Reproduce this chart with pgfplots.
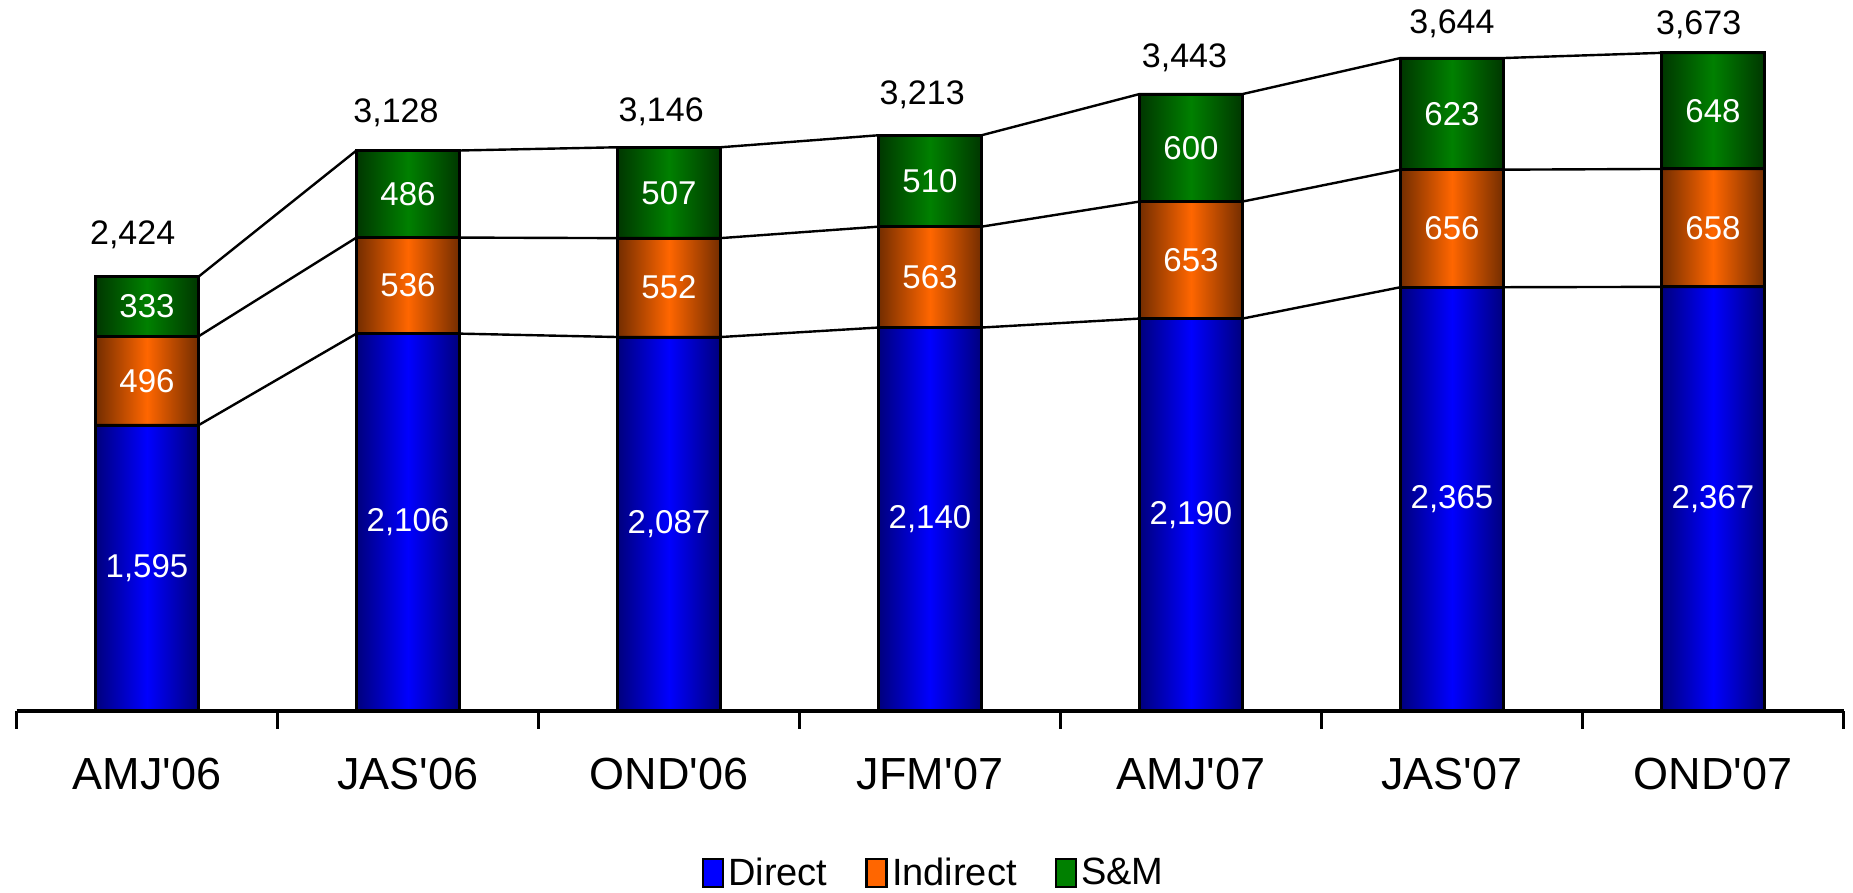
\documentclass[border=0pt]{standalone}
\usepackage{fontspec}
\setmainfont{Liberation Sans}
\usepackage{pgfplots}
\pgfplotsset{compat=1.18}
\usepackage{pgfplotstable}

\definecolor{bluemid}{RGB}{0,0,255}
\definecolor{blueedge}{RGB}{0,0,125}
\definecolor{orgmid}{RGB}{255,102,0}
\definecolor{orgedge}{RGB}{115,45,0}
\definecolor{grnmid}{RGB}{0,128,0}
\definecolor{grnedge}{RGB}{0,55,0}

% Direct 1595 2106 2087 2140 2190 2365 2367
% Indirect 496 536 552 563 653 656 658
% S&M 333 486 507 510 600 623 648
\pgfplotstableread{
x        y     label
0       797.5  1,595
1      1053    2,106
2      1043.5  2,087
3      1070    2,140
4      1095    2,190
5      1182.5  2,365
6      1183.5  2,367
0      1843    496
1      2374    536
2      2363    552
3      2421.5  563
4      2516.5  653
5      2693    656
6      2696    658
0      2257.5  333
1      2885    486
2      2892.5  507
3      2958    510
4      3143    600
5      3332.5  623
6      3349    648
}\inner

\pgfplotstableread{
x       y     label
-0.055  2655  2,424
0.954   3340  3,128
1.97    3345  3,146
2.97    3440  3,213
3.975   3644  3,443
5.0     3834  3,644
5.945   3828  3,673
}\totals

\pgfplotstableread{
x        y
-0.1975  1595
0.1975   1595
0.8025   2106
1.1975   2106
1.8025   2087
2.1975   2087
2.8025   2140
3.1975   2140
3.8025   2190
4.1975   2190
4.8025   2365
5.1975   2365
5.8025   2367
6.1975   2367
}\lineA
\pgfplotstableread{
x        y
-0.1975  2091
0.1975   2091
0.8025   2642
1.1975   2642
1.8025   2639
2.1975   2639
2.8025   2703
3.1975   2703
3.8025   2843
4.1975   2843
4.8025   3021
5.1975   3021
5.8025   3025
6.1975   3025
}\lineB
\pgfplotstableread{
x        y
-0.1975  2424
0.1975   2424
0.8025   3128
1.1975   3128
1.8025   3146
2.1975   3146
2.8025   3213
3.1975   3213
3.8025   3443
4.1975   3443
4.8025   3644
5.1975   3644
5.8025   3673
6.1975   3673
}\lineC

\pgfplotsset{
  grnbar/.style={forget plot, draw=black, line width=1.5pt, left color=grnedge, right color=grnedge, middle color=grnmid},
  orgbar/.style={forget plot, draw=black, line width=1.5pt, left color=orgedge, right color=orgedge, middle color=orgmid},
  bluebar/.style={forget plot, draw=black, line width=1.5pt, left color=blueedge, right color=blueedge, middle color=bluemid},
}

\begin{document}
\begin{tikzpicture}
\useasboundingbox (0,0) rectangle (926.5pt,446.5pt);
\begin{axis}[
  at={(8.25pt,91pt)}, anchor=south west,
  scale only axis, width=913.5pt, height=355.5pt,
  xmin=-0.5, xmax=6.5, ymin=0, ymax=3968,
  ybar, bar width=0.395, bar shift=0pt,
  axis x line*=bottom, axis y line=none,
  axis line style={line width=1.8pt, black},
  xtick={0,...,6},
  xticklabels={AMJ\textquotesingle06,JAS\textquotesingle06,OND\textquotesingle06,JFM\textquotesingle07,AMJ\textquotesingle07,JAS\textquotesingle07,OND\textquotesingle07},
  major tick length=0pt,
  minor xtick={-0.5,0.5,...,6.5},
  minor tick length=9pt,
  tick align=outside,
  minor tick style={line width=1.5pt, black},
  xticklabel style={font=\fontsize{22.5}{26}\selectfont, anchor=center, yshift=-31.5pt},
  clip=false,
  legend columns=3,
  legend style={draw=none, at={(0.5025,-0.228)}, anchor=center,
    font=\fontsize{19}{22}\selectfont,
    /tikz/every even column/.append style={column sep=17pt},
    nodes={inner sep=2pt}},
]
\addlegendimage{legend image code/.code={\draw[draw=black, line width=1.3pt, fill=bluemid] (-4.5pt,-7pt) rectangle (5.5pt,7pt);}}
\addlegendentry{Direct}
\addlegendimage{legend image code/.code={\draw[draw=black, line width=1.3pt, fill=orgmid] (-4.5pt,-7pt) rectangle (5.5pt,7pt);}}
\addlegendentry{Indirect}
\addlegendimage{legend image code/.code={\draw[draw=black, line width=1.3pt, fill=grnmid] (-4.5pt,-7pt) rectangle (5.5pt,7pt);}}
\addlegendentry{S\&M}
% totals (S&M tops)
\addplot[grnbar] coordinates {(0,2424)};
\addplot[grnbar] coordinates {(1,3128)};
\addplot[grnbar] coordinates {(2,3146)};
\addplot[grnbar] coordinates {(3,3213)};
\addplot[grnbar] coordinates {(4,3443)};
\addplot[grnbar] coordinates {(5,3644)};
\addplot[grnbar] coordinates {(6,3673)};
% Direct + Indirect
\addplot[orgbar] coordinates {(0,2091)};
\addplot[orgbar] coordinates {(1,2642)};
\addplot[orgbar] coordinates {(2,2639)};
\addplot[orgbar] coordinates {(3,2703)};
\addplot[orgbar] coordinates {(4,2843)};
\addplot[orgbar] coordinates {(5,3021)};
\addplot[orgbar] coordinates {(6,3025)};
% Direct
\addplot[bluebar] coordinates {(0,1595)};
\addplot[bluebar] coordinates {(1,2106)};
\addplot[bluebar] coordinates {(2,2087)};
\addplot[bluebar] coordinates {(3,2140)};
\addplot[bluebar] coordinates {(4,2190)};
\addplot[bluebar] coordinates {(5,2365)};
\addplot[bluebar] coordinates {(6,2367)};
\end{axis}

\begin{axis}[
  at={(8.25pt,91pt)}, anchor=south west,
  scale only axis, width=913.5pt, height=355.5pt,
  xmin=-0.5, xmax=6.5, ymin=0, ymax=3968,
  hide axis, clip=false,
]
\addplot[black, line width=1.2pt, mark=none] table {\lineA};
\addplot[black, line width=1.2pt, mark=none] table {\lineB};
\addplot[black, line width=1.2pt, mark=none] table {\lineC};
\addplot[draw=none, mark=none, nodes near coords, point meta=explicit symbolic,
  every node near coord/.append style={anchor=center, text=white, font=\fontsize{16.5}{19}\selectfont}]
  table[x=x, y=y, meta=label] {\inner};
\addplot[draw=none, mark=none, nodes near coords, point meta=explicit symbolic,
  every node near coord/.append style={anchor=center, text=black, font=\fontsize{17}{20}\selectfont}]
  table[x=x, y=y, meta=label] {\totals};
\end{axis}
\end{tikzpicture}
\end{document}
